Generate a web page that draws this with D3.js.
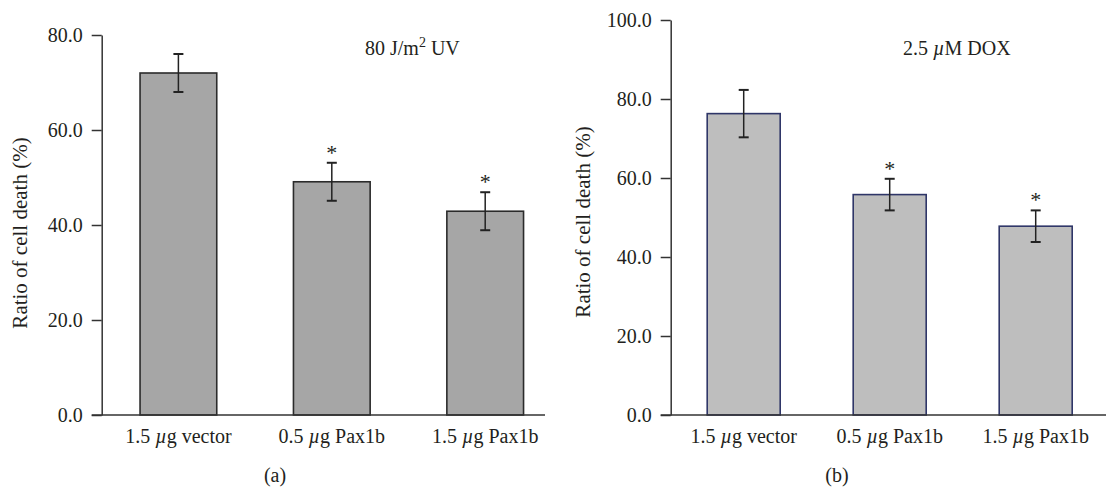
<!DOCTYPE html>
<html lang="en">
<head>
  <meta charset="UTF-8">
  <title>Ratio of cell death</title>
  <script src="https://d3js.org/d3.v7.min.js"></script>
  <style>
    body { margin: 0; background: #fff; }
    svg text {
      font-family: "Liberation Serif", "Times New Roman", serif;
      font-size: 20px;
      fill: #231f20;
    }
    .axis path, .axis line { stroke: #333; stroke-width: 1.5px; }
  </style>
</head>
<body>
  <svg width="1106" height="491"></svg>

  <script>
    // Data
    const categories = ["1.5 |µ|g vector", "0.5 |µ|g Pax1b", "1.5 |µ|g Pax1b"];

    const uvValues = [72.0, 49.1, 42.9];
    const uvErrors = [4.0, 4.0, 4.0];
    const uvStars = [false, true, true];
    const uvTicks = [0, 20, 40, 60, 80];

    const doxValues = [76.3, 55.8, 47.8];
    const doxErrors = [6.0, 4.0, 4.0];
    const doxStars = [false, true, true];
    const doxTicks = [0, 20, 40, 60, 80, 100];

    const svg = d3.select("svg");

    // Writes a label where the part between | | is set in italics
    function richText(sel, str) {
      str.split("|").forEach((part, i) => {
        sel.append("tspan")
          .style("font-style", i % 2 === 1 ? "italic" : "normal")
          .text(part);
      });
    }

    function drawPanel(p) {
      const g = svg.append("g");

      const x = d3.scaleBand()
        .domain(categories)
        .range([p.left, p.left + p.step * 3])
        .paddingInner(0.5)
        .paddingOuter(0.25);

      const y = d3.scaleLinear()
        .domain([0, d3.max(p.ticks)])
        .range([p.bottom, p.top]);

      // y axis
      g.append("g")
        .attr("class", "axis")
        .attr("transform", `translate(${p.left},0)`)
        .call(d3.axisLeft(y).tickValues(p.ticks).tickFormat(d3.format(".1f"))
          .tickSize(10).tickSizeOuter(0).tickPadding(9))
        .call(a => a.selectAll("text").style("font-size", "20px").attr("fill", "#231f20"));

      // bars
      g.selectAll(".bar")
        .data(p.values)
        .join("rect")
        .attr("x", (d, i) => x(categories[i]))
        .attr("y", d => y(d))
        .attr("width", x.bandwidth())
        .attr("height", d => y(0) - y(d))
        .attr("fill", p.fill)
        .attr("stroke", p.stroke)
        .attr("stroke-width", 1.6);

      // x axis line
      g.append("line")
        .attr("x1", p.left - 10).attr("x2", p.axisEnd)
        .attr("y1", y(0)).attr("y2", y(0))
        .attr("stroke", "#333").attr("stroke-width", 1.5);

      // error bars
      const err = g.selectAll(".err")
        .data(p.values)
        .join("g")
        .attr("transform", (d, i) => `translate(${x(categories[i]) + x.bandwidth() / 2},0)`);

      err.append("line")
        .attr("y1", (d, i) => y(d + p.errors[i]))
        .attr("y2", (d, i) => y(d - p.errors[i]))
        .attr("stroke", "#222").attr("stroke-width", 1.5);
      err.append("line")
        .attr("x1", -5).attr("x2", 5)
        .attr("y1", (d, i) => y(d + p.errors[i]))
        .attr("y2", (d, i) => y(d + p.errors[i]))
        .attr("stroke", "#222").attr("stroke-width", 2);
      err.append("line")
        .attr("x1", -5).attr("x2", 5)
        .attr("y1", (d, i) => y(d - p.errors[i]))
        .attr("y2", (d, i) => y(d - p.errors[i]))
        .attr("stroke", "#222").attr("stroke-width", 2);

      // significance stars
      err.filter((d, i) => p.stars[i])
        .append("text")
        .attr("text-anchor", "middle")
        .style("font-size", "22px")
        .attr("y", (d, i) => y(d + p.errors[p.values.indexOf(d)]) - 3)
        .text("*");

      // category labels
      g.selectAll(".cat")
        .data(categories)
        .join("text")
        .attr("x", d => x(d) + x.bandwidth() / 2)
        .attr("y", 443)
        .attr("text-anchor", "middle")
        .each(function(d) { richText(d3.select(this), d); });

      // y axis title
      g.append("text")
        .attr("transform", `translate(${p.titleX},${p.titleY}) rotate(-90)`)
        .attr("text-anchor", "middle")
        .style("font-size", "21px")
        .text("Ratio of cell death (%)");

      // treatment note
      const note = g.append("text")
        .attr("x", p.noteX)
        .attr("y", 55);
      p.note(note);

      // panel letter
      g.append("text")
        .attr("x", p.letterX)
        .attr("y", 482)
        .attr("text-anchor", "middle")
        .text(p.letter);
    }

    drawPanel({
      values: uvValues, errors: uvErrors, stars: uvStars, ticks: uvTicks,
      left: 101.7, step: 153.4, top: 35, bottom: 415, axisEnd: 545,
      fill: "#a6a6a6", stroke: "#2b2b2b",
      titleX: 27, titleY: 233,
      noteX: 365,
      note: t => {
        t.append("tspan").text("80 J/m");
        t.append("tspan").attr("dy", -8).style("font-size", "14px").text("2");
        t.append("tspan").attr("dy", 8).text(" UV");
      },
      letter: "(a)", letterX: 275
    });

    drawPanel({
      values: doxValues, errors: doxErrors, stars: doxStars, ticks: doxTicks,
      left: 670.7, step: 146, top: 20, bottom: 415, axisEnd: 1106,
      fill: "#bebebe", stroke: "#2f3668",
      titleX: 590, titleY: 222,
      noteX: 903,
      note: t => richText(t, "2.5 |µ|M DOX"),
      letter: "(b)", letterX: 837
    });
  </script>
</body>
</html>
